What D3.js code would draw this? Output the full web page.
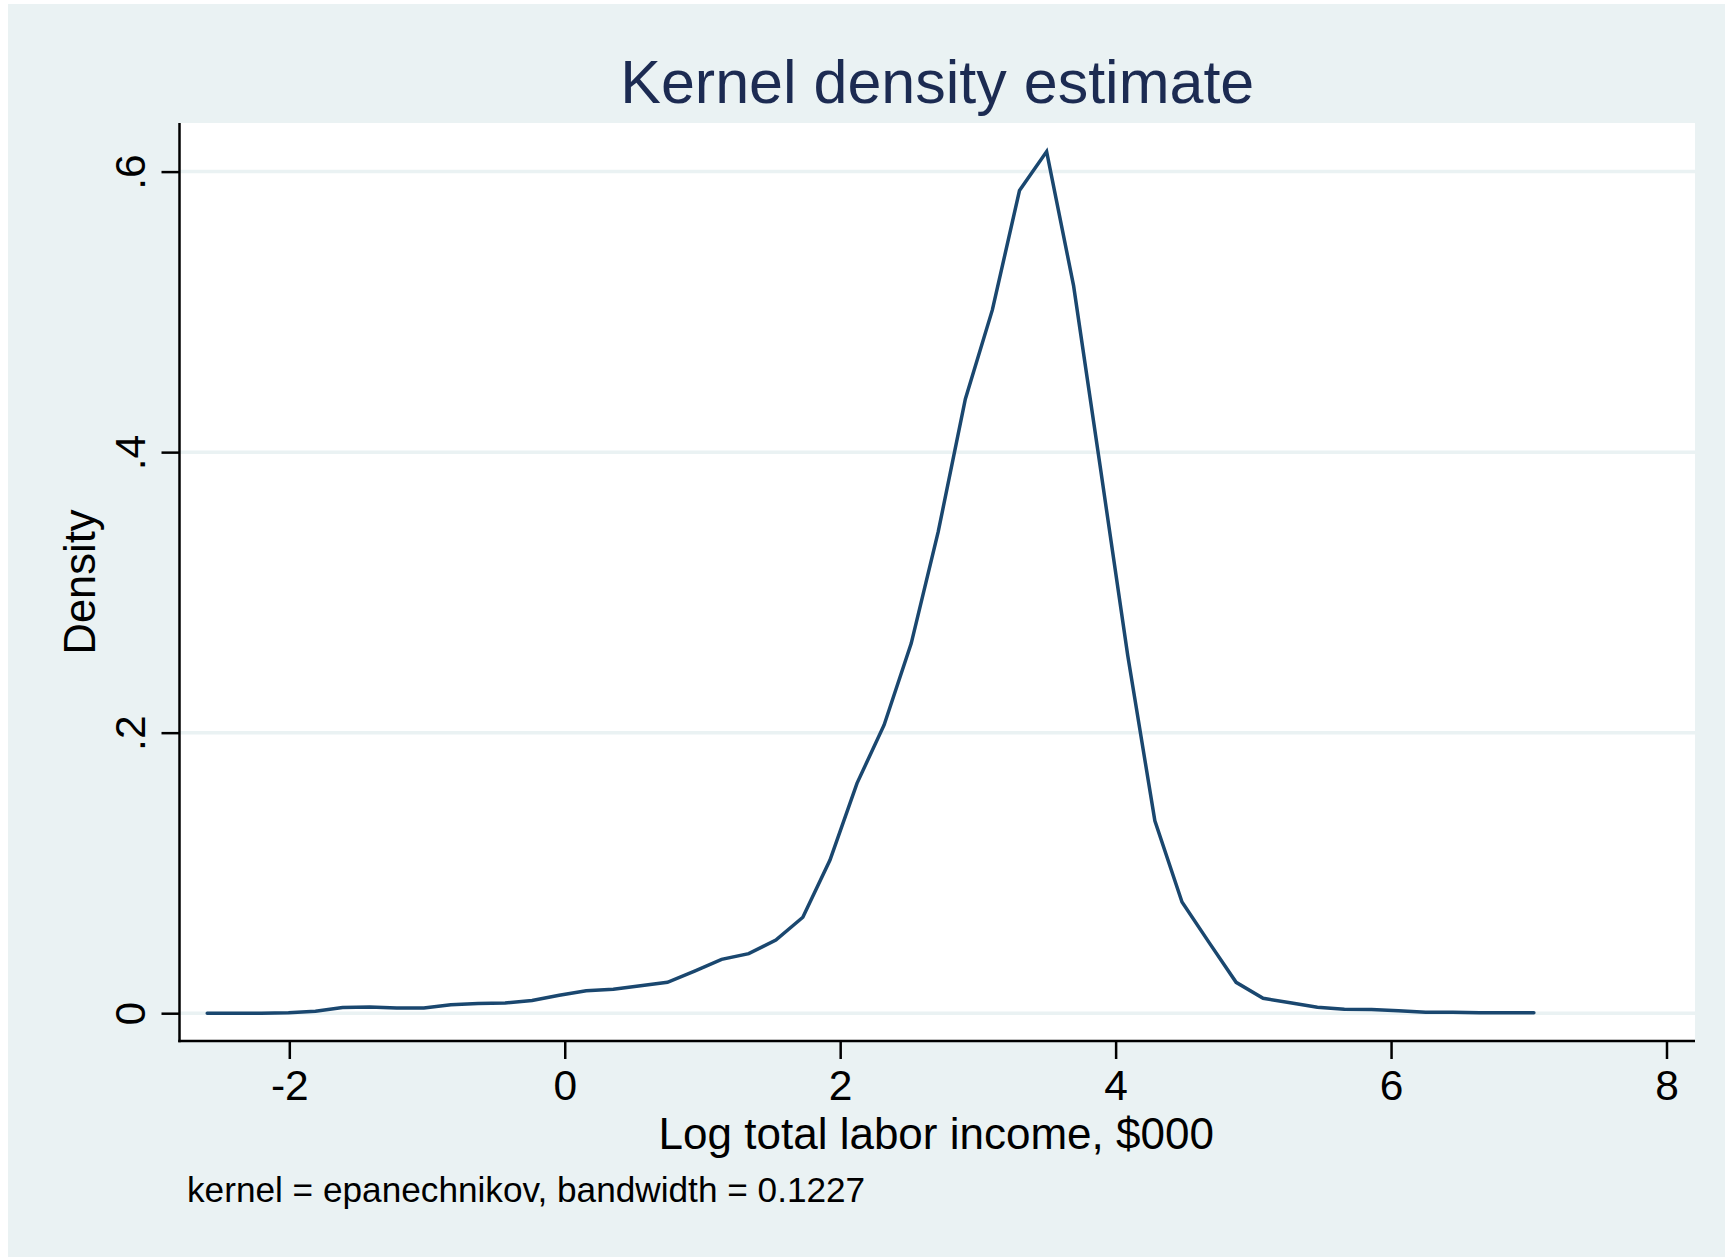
<!DOCTYPE html>
<html>
<head>
<meta charset="utf-8">
<script src="https://cdn.jsdelivr.net/npm/d3@7"></script>
<style>
  html, body { margin: 0; padding: 0; background: #ffffff; }
  svg { display: block; }
  text { font-family: "Liberation Sans", Arial, Helvetica, sans-serif; }
</style>
</head>
<body>
<script>
// Kernel density estimate of log total labor income (evaluation grid and density)
const gridX = [
  -2.596, -2.399, -2.203, -2.006, -1.810, -1.613, -1.416, -1.220, -1.023, -0.827,
  -0.630, -0.433, -0.237, -0.040, 0.156, 0.353, 0.550, 0.746, 0.943, 1.139,
  1.336, 1.533, 1.729, 1.926, 2.122, 2.319, 2.516, 2.712, 2.909, 3.105,
  3.302, 3.499, 3.695, 3.892, 4.088, 4.285, 4.482, 4.678, 4.875, 5.071,
  5.268, 5.465, 5.661, 5.858, 6.054, 6.251, 6.448, 6.644, 6.841, 7.037
];
const density = [
  0.0000, 0.0000, 0.0000, 0.0003, 0.0014, 0.0040, 0.0045, 0.0037, 0.0037, 0.0060,
  0.0070, 0.0073, 0.0090, 0.0128, 0.0160, 0.0170, 0.0196, 0.0220, 0.0300, 0.0384,
  0.0425, 0.0522, 0.0684, 0.1092, 0.1639, 0.2055, 0.2637, 0.3433, 0.4379, 0.5014,
  0.5865, 0.6143, 0.5185, 0.3870, 0.2550, 0.1372, 0.0793, 0.0505, 0.0220, 0.0106,
  0.0074, 0.0043, 0.0029, 0.0026, 0.0017, 0.0006, 0.0006, 0.0003, 0.0003, 0.0003
];
const xTicks = [-2, 0, 2, 4, 6, 8];
const yTicks = [0, 0.2, 0.4, 0.6];
const yTickLabels = ["0", ".2", ".4", ".6"];

const titleText = "Kernel density estimate";
const xTitle = "Log total labor income, $000";
const yTitle = "Density";
const noteText = "kernel = epanechnikov, bandwidth = 0.1227";

const W = 1725, H = 1257;
const plot = { left: 179.5, right: 1695, top: 123, bottom: 1041 };
const bg = "#eaf2f3";
const navy = "#1a476f";

const svg = d3.select("body").append("svg")
  .attr("width", W).attr("height", H);

// graph region background
svg.append("rect")
  .attr("x", 8).attr("y", 4)
  .attr("width", W - 8).attr("height", H - 4)
  .attr("fill", bg);

// plot region
svg.append("rect")
  .attr("x", plot.left).attr("y", plot.top)
  .attr("width", plot.right - plot.left).attr("height", plot.bottom - plot.top)
  .attr("fill", "#ffffff");

const x = d3.scaleLinear().domain([-2, 8]).range([289.3, 1666.5]);
const y = d3.scaleLinear().domain([0, 0.6]).range([1013.2, 171.6]);

// horizontal grid lines
svg.append("g").selectAll("line")
  .data(yTicks)
  .join("line")
  .attr("x1", plot.left).attr("x2", plot.right)
  .attr("y1", d => y(d)).attr("y2", d => y(d))
  .attr("stroke", bg).attr("stroke-width", 3.5);

// density curve
const line = d3.line()
  .x((d, i) => x(gridX[i]))
  .y(d => y(d));

svg.append("path")
  .datum(density)
  .attr("d", line)
  .attr("fill", "none")
  .attr("stroke", navy)
  .attr("stroke-width", 3.5)
  .attr("stroke-linejoin", "miter")
  .attr("stroke-linecap", "round");

// x axis
const xAxis = d3.axisBottom(x)
  .tickValues(xTicks)
  .tickFormat(d3.format("d"))
  .tickSizeOuter(0)
  .tickSizeInner(18)
  .tickPadding(10);

const gx = svg.append("g")
  .attr("transform", `translate(0,${plot.bottom})`)
  .call(xAxis);
gx.select(".domain").remove();
gx.append("line")
  .attr("x1", plot.left - 1.25).attr("x2", plot.right)
  .attr("y1", 0).attr("y2", 0)
  .attr("stroke", "#000").attr("stroke-width", 2.5);
gx.selectAll(".tick line").attr("stroke", "#000").attr("stroke-width", 2.5);
gx.selectAll(".tick text")
  .attr("fill", "#000")
  .attr("font-size", 42.5)
  .attr("font-family", "Liberation Sans, Arial, sans-serif")
  .attr("dy", null)
  .attr("y", 59)
  .text(d => d < 0 ? "-" + Math.abs(d) : String(d));

// y axis
const yAxis = d3.axisLeft(y)
  .tickValues(yTicks)
  .tickFormat((d, i) => yTickLabels[i])
  .tickSizeOuter(0)
  .tickSizeInner(18)
  .tickPadding(10);

const gy = svg.append("g")
  .attr("transform", `translate(${plot.left},0)`)
  .call(yAxis);
gy.select(".domain").remove();
gy.append("line")
  .attr("x1", 0).attr("x2", 0)
  .attr("y1", plot.top).attr("y2", plot.bottom + 1.25)
  .attr("stroke", "#000").attr("stroke-width", 2.5);
gy.selectAll(".tick line").attr("stroke", "#000").attr("stroke-width", 2.5);
gy.selectAll(".tick text")
  .attr("fill", "#000")
  .attr("font-size", 42.5)
  .attr("font-family", "Liberation Sans, Arial, sans-serif")
  .attr("x", null).attr("dy", null)
  .attr("text-anchor", "middle")
  .attr("transform", "translate(-35,0) rotate(-90)");

// titles
svg.append("text")
  .attr("x", (plot.left + plot.right) / 2).attr("y", 102.5)
  .attr("text-anchor", "middle")
  .attr("font-size", 61)
  .attr("fill", "#1c2b52")
  .text(titleText);

svg.append("text")
  .attr("x", (plot.left + plot.right) / 2 - 1).attr("y", 1149)
  .attr("text-anchor", "middle")
  .attr("font-size", 44)
  .attr("fill", "#000")
  .text(xTitle);

svg.append("text")
  .attr("transform", `translate(95,${(plot.top + plot.bottom) / 2}) rotate(-90)`)
  .attr("text-anchor", "middle")
  .attr("font-size", 43.5)
  .attr("fill", "#000")
  .text(yTitle);

svg.append("text")
  .attr("x", 187).attr("y", 1202)
  .attr("font-size", 35.2)
  .attr("fill", "#000")
  .text(noteText);
</script>
</body>
</html>
